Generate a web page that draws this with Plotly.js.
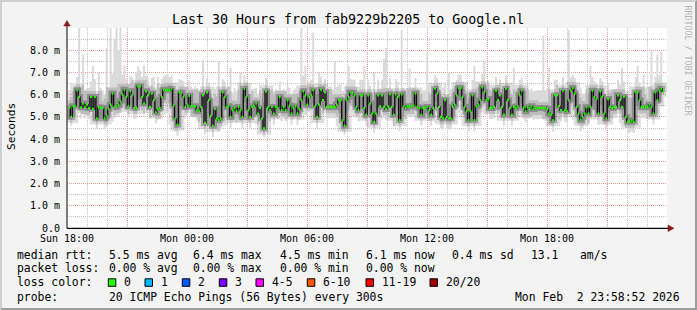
<!DOCTYPE html>
<html>
<head>
<meta charset="utf-8">
<script src="https://cdn.plot.ly/plotly-3.0.1.min.js"></script>
<style>
  html, body { margin: 0; padding: 0; background: #f3f3f3; }
  #wrap { position: relative; width: 697px; height: 310px; }
  #chart { width: 697px; height: 310px; }
  #frame { position: absolute; left: 0; top: 0; width: 697px; height: 310px; box-sizing: border-box;
           border-top: 2px solid #cfcfcf; border-left: 2px solid #cfcfcf;
           border-bottom: 2px solid #9e9e9e; border-right: 2px solid #9e9e9e; pointer-events: none; }
</style>
</head>
<body>
<div id="wrap"><div id="chart"></div><div id="frame"></div></div>
<script>
// ---------------- data (milliseconds) ----------------
const chartTitle = "Last 30 Hours from fab9229b2205 to Google.nl";
const startTime = "2026-02-01 18:04:00";
const stepSeconds = 354;

const medianRtt = [
5.41,5.0,5.48,5.48,6.2,5.9,5.43,5.6,5.43,5.55,
5.4,5.9,5.35,5.9,4.93,5.43,5.4,5.4,4.93,5.05,
5.35,5.55,6.05,5.45,5.48,5.55,5.7,6.0,6.22,5.9,
5.48,6.15,5.97,5.4,5.43,6.38,6.38,5.9,5.6,6.15,
5.97,5.45,6.05,5.75,5.2,5.35,5.4,5.9,6.22,6.2,
6.2,6.2,6.27,5.5,4.93,4.65,6.1,6.07,5.9,5.45,
5.55,5.95,5.48,5.48,5.48,5.3,5.25,5.45,5.97,4.73,
6.1,5.75,5.05,4.6,5.35,4.93,4.85,4.93,6.1,5.9,
5.45,5.48,5.0,5.3,5.4,5.25,5.45,5.3,5.0,6.27,
5.9,5.3,5.0,5.45,5.48,5.6,5.15,5.4,4.93,4.48,
6.15,5.43,5.3,5.45,5.15,5.45,5.4,5.9,5.3,5.45,
5.3,5.75,5.5,5.15,5.4,5.48,5.15,5.35,5.75,6.15,
5.97,5.55,5.9,5.97,6.2,5.48,5.0,5.55,6.22,5.75,
6.1,5.45,5.45,5.45,5.43,5.45,5.55,5.75,5.75,4.85,
4.6,5.75,5.9,6.1,6.07,5.97,5.45,5.3,
5.97,5.97,5.4,5.1,5.97,5.6,5.15,4.78,5.15,5.97,
5.48,5.97,5.45,5.35,5.48,6.02,5.45,5.1,6.02,5.9,
4.85,6.02,5.48,5.4,5.48,5.48,5.48,5.5,6.05,5.45,
5.4,5.1,5.4,5.4,5.45,5.3,5.1,5.4,6.27,6.05,
5.45,5.0,4.93,5.75,5.0,4.93,4.93,5.45,5.55,5.97,
6.3,6.3,5.9,5.45,5.25,4.85,5.25,5.97,4.85,5.48,
5.55,5.75,6.33,6.12,5.75,5.8,5.4,5.4,5.45,6.18,
5.75,5.97,5.45,5.1,6.27,5.75,5.4,5.1,5.45,5.4,
5.48,5.97,6.18,5.4,5.25,5.45,5.4,5.48,5.35,5.4,
5.4,5.4,5.4,5.4,5.4,5.35,5.15,5.1,4.85,5.97,
5.97,5.48,5.3,6.18,5.3,5.25,5.75,6.18,6.3,6.05,
5.45,5.15,4.87,5.0,5.15,5.43,5.15,5.45,6.18,5.9,
5.8,5.15,6.15,5.9,5.15,4.93,5.8,5.45,5.4,5.45,
5.45,5.97,5.75,5.45,5.9,5.0,4.78,4.78,4.85,4.78,
6.1,6.1,5.75,5.45,5.45,5.43,5.45,5.55,5.45,5.15,
6.1,5.75,6.18,6.27,6.12
];

// how far the slowest ping lies above the median (smoke top)
const upSpread = [
0.8,0.9,0.7,0.9,0.6,3.6,0.9,2.2,0.8,0.7,
0.9,0.7,1.95,0.8,1.0,1.57,0.9,0.8,1.1,3.05,
1.0,3.95,0.9,3.05,4.0,2.45,3.8,0.9,1.1,0.8,
1.0,0.7,0.8,1.0,1.57,0.9,0.7,0.9,1.7,0.7,
0.8,0.9,0.7,1.05,1.0,1.45,0.9,0.8,0.6,0.7,
0.7,0.6,0.6,0.8,1.0,1.1,0.6,0.6,0.7,0.9,
0.8,0.7,0.9,0.8,0.9,1.0,0.9,0.8,1.6,1.1,
0.6,0.8,1.0,1.2,0.9,1.0,2.65,1.0,0.6,0.7,
0.8,0.9,2.2,0.8,0.9,0.9,0.8,1.7,1.0,0.6,
0.7,0.9,1.0,0.8,0.8,0.7,0.9,0.8,1.0,1.2,
0.6,0.8,0.9,0.8,0.9,0.8,0.8,0.7,0.9,0.8,
0.9,0.7,0.8,0.9,0.8,0.8,0.9,0.8,3.55,0.7,
1.35,0.8,0.7,0.7,2.6,0.8,1.0,1.45,0.6,0.7,
0.6,0.8,0.8,0.8,0.8,2.05,0.8,0.7,0.7,1.1,
1.2,0.7,1.4,0.6,0.6,0.7,0.9,0.9,0.7,0.7,
1.9,0.9,0.7,0.8,0.9,2.2,0.9,0.7,0.8,0.7,
2.15,2.75,0.8,0.7,0.8,0.9,0.7,0.7,1.0,2.9,
0.8,0.8,0.8,1.7,0.8,0.8,0.7,0.8,0.8,0.9,
0.8,0.8,2.4,0.8,0.9,0.8,0.6,0.7,0.8,1.0,
1.0,0.8,1.0,2.05,1.0,0.8,0.8,0.7,0.6,0.6,
0.7,0.8,0.9,1.0,0.9,0.7,2.45,0.8,0.8,0.7,
0.6,1.4,0.7,0.7,0.8,0.8,0.8,0.6,0.7,0.7,
0.8,0.9,0.6,0.7,0.8,0.9,1.75,0.8,0.8,0.7,
0.6,0.8,0.9,0.8,0.8,0.8,0.8,0.8,0.8,0.8,
0.8,3.25,0.8,0.9,2.05,0.9,1.0,0.7,0.7,0.8,
0.9,0.6,0.9,0.9,3.15,0.6,0.6,0.7,0.8,0.9,
1.0,1.0,0.9,0.8,0.9,1.85,0.6,0.7,0.7,0.9,
0.6,0.7,0.9,1.0,0.7,0.8,0.8,0.8,0.8,0.7,
0.7,1.75,0.7,1.0,1.1,1.1,1.0,1.1,0.7,1.2,
0.8,0.9,1.45,0.9,0.9,0.8,2.6,0.9,0.7,2.05,
0.7,1.65,0.7
];

// how far the fastest ping lies below the median (smoke bottom)
const downSpread = [
0.5,0.4,0.5,0.5,0.6,0.6,0.5,0.5,0.5,0.5,
0.5,0.6,0.5,0.6,0.5,0.5,0.5,0.5,0.5,0.5,
0.5,0.5,0.6,0.5,0.5,0.5,0.5,0.6,0.6,0.6,
0.5,0.6,0.6,0.5,0.5,0.6,0.6,0.6,0.5,0.6,
0.6,0.5,0.6,0.6,0.5,0.5,0.5,0.6,0.6,0.6,
0.6,0.6,0.6,0.6,0.6,0.5,0.6,0.6,0.6,0.5,
0.5,0.6,0.5,0.5,0.5,0.5,0.5,0.5,0.6,0.5,
0.6,0.6,0.5,0.5,0.5,0.5,0.5,0.5,0.6,0.6,
0.5,0.5,0.5,0.5,0.5,0.5,0.5,0.5,0.5,0.6,
0.6,0.5,0.5,0.5,0.5,0.5,0.5,0.5,0.5,0.4,
0.6,0.5,0.5,0.5,0.5,0.5,0.5,0.6,0.5,0.5,
0.5,0.6,0.5,0.5,0.5,0.5,0.5,0.5,0.6,0.6,
0.6,0.5,0.6,0.6,0.6,0.5,0.5,0.5,0.6,0.6,
0.6,0.5,0.5,0.5,0.5,0.5,0.5,0.6,0.6,0.5,
0.4,0.6,0.6,0.6,0.6,0.6,0.5,0.5,0.6,0.6,
0.5,0.5,0.6,0.5,0.5,0.5,0.5,0.6,0.5,0.6,
0.5,0.5,0.5,0.6,0.5,0.5,0.6,0.6,0.5,0.6,
0.5,0.5,0.5,0.5,0.5,0.5,0.6,0.5,0.5,0.5,
0.5,0.5,0.5,0.5,0.5,0.5,0.6,0.6,0.5,0.5,
0.5,0.6,0.5,0.5,0.5,0.5,0.5,0.6,0.6,0.6,
0.6,0.5,0.5,0.5,0.5,0.6,0.5,0.5,0.5,0.6,
0.6,0.6,0.6,0.6,0.5,0.5,0.5,0.6,0.6,0.6,
0.5,0.5,0.6,0.6,0.5,0.5,0.5,0.5,0.5,0.6,
0.6,0.5,0.5,0.5,0.5,0.5,0.5,0.5,0.5,0.5,
0.5,0.5,0.5,0.5,0.5,0.5,0.5,0.5,0.6,0.6,
0.5,0.6,0.5,0.5,0.6,0.6,0.6,0.6,0.5,0.5,
0.5,0.5,0.5,0.5,0.5,0.5,0.6,0.6,0.6,0.5,
0.6,0.6,0.5,0.5,0.6,0.5,0.5,0.5,0.5,0.6,
0.6,0.5,0.6,0.5,0.5,0.5,0.5,0.5,0.6,0.6,
0.6,0.5,0.5,0.5,0.5,0.5,0.5,0.5,0.6,0.6,
0.6,0.6,0.6
];

const yTickVals = [0,1,2,3,4,5,6,7,8];
const yTickText = ["0.0","1.0 m","2.0 m","3.0 m","4.0 m","5.0 m","6.0 m","7.0 m","8.0 m"];
const xTickVals = ["2026-02-01 18:00","2026-02-01 21:00","2026-02-02 00:00","2026-02-02 03:00",
  "2026-02-02 06:00","2026-02-02 09:00","2026-02-02 12:00","2026-02-02 15:00",
  "2026-02-02 18:00","2026-02-02 21:00","2026-02-03 00:00"];
const xTickText = ["Sun 18:00","","Mon 00:00","","Mon 06:00","","Mon 12:00","","Mon 18:00","",""];

const rttStats  = ["5.5 ms avg","6.4 ms max","4.5 ms min","6.1 ms now","0.4 ms sd","13.1","am/s"];
const lossStats = ["0.00 % avg","0.00 % max","0.00 % min","0.00 % now"];
const lossLabels = ["0","1","2","3","4-5","6-10","11-19","20/20"];
const lossColors = ["#26ff00","#00b8ff","#0059ff","#7e00ff","#ff00ff","#ff5500","#ff0000","#a10000"];
const probeText = "20 ICMP Echo Pings (56 Bytes) every 300s";
const stampText = "Mon Feb\u00a0\u00a02 23:58:52 2026";

// ---------------- build ----------------
const W = 697, H = 310, ML = 67, MR = 30, MT = 28, MB = 82;
const PW = W - ML - MR, PH = H - MT - MB;
const px = x => (x - ML) / PW;
const py = y => (H - MB - y) / PH;

function fmt(ms) { return new Date(ms).toISOString().slice(0,19).replace("T"," "); }
const t0 = Date.parse(startTime.replace(" ","T") + "Z");
const times = medianRtt.map((_, i) => fmt(t0 + i * stepSeconds * 1000));
const timesEnd = medianRtt.map((_, i) => fmt(t0 + (i + 1) * stepSeconds * 1000));
const lo = medianRtt.map((v, i) => v - downSpread[i]);
const hi = medianRtt.map((v, i) => v + upSpread[i]);

const gx = [], gy = [];
medianRtt.forEach((v, i) => { gx.push(times[i], timesEnd[i], null); gy.push(v, v, null); });

const traces = [
  {x: times, y: lo, type: "scatter", mode: "lines", line: {width: 0, shape: "hv"}, hoverinfo: "skip", showlegend: false},
  {x: times, y: hi, type: "scatter", mode: "lines", line: {width: 0, shape: "hv"}, fill: "tonexty",
   fillcolor: "#dadada", hoverinfo: "skip", showlegend: false},
  {x: times, y: medianRtt, type: "scatter", mode: "lines", line: {width: 12, shape: "hv", color: "rgba(0,0,0,0.13)"}, showlegend: false},
  {x: times, y: medianRtt, type: "scatter", mode: "lines", line: {width: 6, shape: "hv", color: "rgba(0,0,0,0.26)"}, showlegend: false},
  {x: times, y: medianRtt, type: "scatter", mode: "lines", line: {width: 1.4, shape: "hv", color: "#111"}, showlegend: false},
  {x: gx, y: gy, type: "scatter", mode: "lines", line: {width: 2.2, color: lossColors[0]}, connectgaps: false, showlegend: false}
];

const mono = "DejaVu Sans Mono, monospace";
const ann = [];
function txt(x, y, s, opts) {
  ann.push(Object.assign({xref: "paper", yref: "paper", x: px(x), y: py(y), text: s, showarrow: false,
    xanchor: "left", yanchor: "middle", borderpad: 0, font: {family: mono, size: 11.4, color: "#000"}}, opts || {}));
}
const colX = [107.6, 192.4, 279, 365.3, 451, 530, 578.7];
txt(16, 254.5, "median rtt:");
rttStats.forEach((s, i) => txt(colX[i], 254.5, s));
txt(16, 268.3, "packet loss:");
lossStats.forEach((s, i) => txt(colX[i], 268.3, s));
txt(16, 282.3, "loss color:");
const boxX = [108.3, 145, 182.3, 219.3, 256, 307.3, 366, 430];
const shapes = [];
lossLabels.forEach((s, i) => {
  shapes.push({type: "rect", xref: "paper", yref: "paper", x0: px(boxX[i]), x1: px(boxX[i] + 7.5),
    y0: py(286.3), y1: py(278.8), fillcolor: lossColors[i], line: {color: "#000", width: 1}});
  txt(boxX[i] + 15, 282.3, s);
});
txt(16, 296.5, "probe:");
txt(107.6, 296.5, probeText);
txt(680.5, 296.5, stampText, {xanchor: "right"});
// title & side texts
txt(348, 19, chartTitle, {xanchor: "center", font: {family: mono, size: 13.3, color: "#000"}});
txt(11, 127, "Seconds", {xanchor: "center", textangle: -90, font: {family: mono, size: 11.2, color: "#000"}});
txt(687.5, 60, "RRDTOOL / TOBI OETIKER", {xanchor: "center", textangle: 90, font: {family: mono, size: 8.3, color: "#b4b4b4"}});

// axes with arrows
shapes.push({type: "line", xref: "paper", yref: "paper", x0: px(67), x1: px(670), y0: py(228.3), y1: py(228.3), line: {color: "#000", width: 1.2}});
shapes.push({type: "line", xref: "paper", yref: "paper", x0: px(67), x1: px(67), y0: py(228.3), y1: py(24), line: {color: "#3a2626", width: 1.2}});
shapes.push({type: "path", xref: "paper", yref: "paper", fillcolor: "#8b1a1a", line: {color: "#8b1a1a", width: 0.5},
  path: `M ${px(668)} ${py(225)} L ${px(674)} ${py(228.3)} L ${px(668)} ${py(231.6)} Z`});
shapes.push({type: "path", xref: "paper", yref: "paper", fillcolor: "#8b1a1a", line: {color: "#8b1a1a", width: 0.5},
  path: `M ${px(63.7)} ${py(26)} L ${px(67)} ${py(20.5)} L ${px(70.3)} ${py(26)} Z`});

const gridMinor = "#c4c4c4", gridMajor = "#f49a9a";
const layout = {
  width: W, height: H,
  margin: {l: ML, r: MR, t: MT, b: MB},
  paper_bgcolor: "#f3f3f3", plot_bgcolor: "#ffffff",
  showlegend: false,
  font: {family: mono, size: 10, color: "#000"},
  xaxis: {
    type: "date", range: ["2026-02-01 18:00", "2026-02-03 00:00"],
    tickmode: "array", tickvals: xTickVals, ticktext: xTickText,
    showgrid: true, gridcolor: gridMajor, griddash: "1px,1px", gridwidth: 1,
    minor: {dtick: 3600000, tick0: "2026-02-01 18:00", showgrid: true, gridcolor: gridMinor, griddash: "1px,1px", gridwidth: 1},
    ticks: "", zeroline: false, showline: false, ticklabelstandoff: 3,
    tickfont: {family: mono, size: 10, color: "#000"}, fixedrange: true
  },
  yaxis: {
    range: [0, 9], tickmode: "array", tickvals: yTickVals, ticktext: yTickText,
    showgrid: true, gridcolor: gridMajor, griddash: "1px,1px", gridwidth: 1,
    minor: {dtick: 0.5, tick0: 0, showgrid: true, gridcolor: gridMinor, griddash: "1px,1px", gridwidth: 1},
    ticks: "", zeroline: false, showline: false, ticklabelstandoff: 6,
    tickfont: {family: mono, size: 10, color: "#000"}, fixedrange: true
  },
  annotations: ann,
  shapes: shapes
};

Plotly.newPlot("chart", traces, layout, {staticPlot: true, displayModeBar: false});
</script>
</body>
</html>
